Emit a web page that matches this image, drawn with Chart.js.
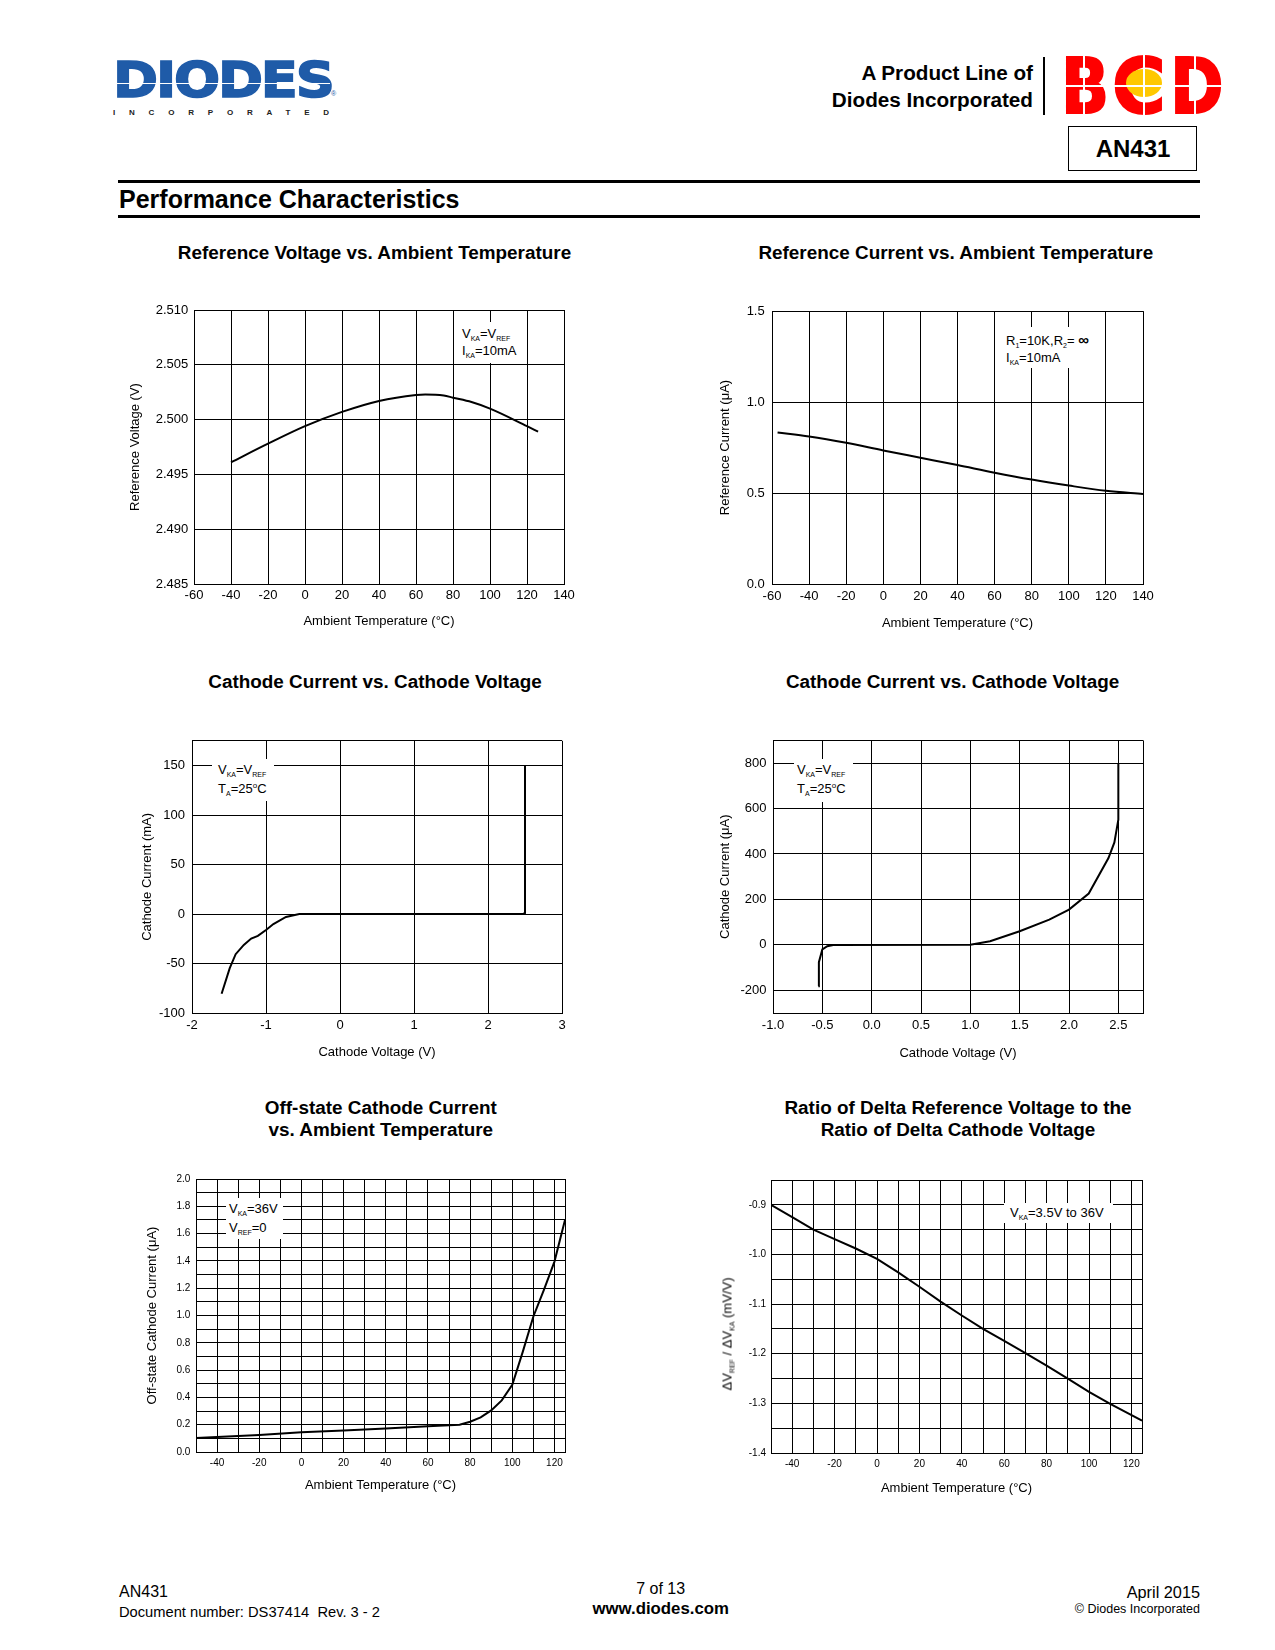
<!DOCTYPE html>
<html>
<head>
<meta charset="utf-8">
<script src="https://cdn.jsdelivr.net/npm/chart.js@4.4.1/dist/chart.umd.min.js"></script>
<style>
  html, body { margin: 0; padding: 0; background: #fff; }
  #page { position: relative; width: 1275px; height: 1650px; overflow: hidden;
          font-family: "Liberation Sans", Arial, Helvetica, sans-serif; color: #000; }
  .abs { position: absolute; white-space: nowrap; }
  .c { position: absolute; white-space: nowrap; transform: translate(-50%, -50%); }
  .l { position: absolute; white-space: nowrap; transform: translateY(-50%); }
  .r { position: absolute; white-space: nowrap; transform: translate(-100%, -50%); }
  .ctitle { font-weight: bold; font-size: 18.9px; text-align: center; line-height: 22px; }
  .note { position: absolute; background: #fff; font-size: 13px; white-space: nowrap; z-index: 5; }
  .note sub, .ytl sub { font-size: 7px; vertical-align: -3px; line-height: 0; }
  .sup { font-size: 8px; vertical-align: 5px; line-height: 0; }
  .rule { position: absolute; left: 118px; width: 1082px; height: 3px; background: #000; }
  .bcd { position: absolute; top: 48px; font-family: "DejaVu Sans", sans-serif; font-weight: bold;
         font-size: 77px; line-height: 77px; color: #f00; transform-origin: 0 0;
         -webkit-text-stroke: 2px #f00; }
</style>
</head>
<body>
<div id="page">
  <!-- header -->
  <div class="abs" style="left:113px;top:56px;font-family:'DejaVu Sans',sans-serif;font-weight:bold;font-size:49.4px;line-height:49.4px;color:#1f5ba8;letter-spacing:-2px;-webkit-text-stroke:1.6px #1f5ba8;transform:scaleX(1.1);transform-origin:0 0;">DIODES</div>
  <div class="abs" style="left:112px;top:83px;width:218px;height:1px;background:#fff;"></div>
  <div class="abs" style="left:331px;top:90px;font-size:7px;color:#1f5ba8;">®</div>
  <div class="l" style="left:113px;top:112px;font-size:8px;font-weight:bold;letter-spacing:13.8px;color:#222;">INCORPORATED</div>

  <div class="r" style="left:1033px;top:73px;font-size:20.7px;font-weight:bold;">A Product Line of</div>
  <div class="r" style="left:1033px;top:100px;font-size:20.7px;font-weight:bold;">Diodes Incorporated</div>
  <div class="abs" style="left:1043px;top:57px;width:1.5px;height:58px;background:#000;"></div>

  <div class="bcd" style="left:1061px;transform:scaleX(0.82);">B</div>
  <div class="bcd" style="left:1112px;transform:scaleX(0.95);">C</div>
  <div class="abs" style="left:1126px;top:69px;width:36px;height:28px;border-radius:50%;background:#ffc800;"></div>
  <div class="bcd" style="left:1170px;transform:scaleX(0.84);">D</div>
  <div class="abs" style="left:1059px;top:85px;width:168px;height:1.5px;background:#fff;"></div>
  <div class="abs" style="left:1083px;top:55px;width:1.5px;height:60px;background:#fff;"></div>
  <div class="abs" style="left:1143px;top:55px;width:1.5px;height:60px;background:#fff;"></div>
  <div class="abs" style="left:1194px;top:55px;width:1.5px;height:60px;background:#fff;"></div>

  <div class="abs" style="left:1068px;top:126px;width:127px;height:43px;border:1.5px solid #000;"></div>
  <div class="c" style="left:1133px;top:149px;font-size:24px;font-weight:bold;">AN431</div>

  <div class="rule" style="top:180px;"></div>
  <div class="l" style="left:119px;top:199px;font-size:25px;font-weight:bold;">Performance Characteristics</div>
  <div class="rule" style="top:215px;"></div>

  <!-- chart titles -->
  <div class="c ctitle" style="left:374.5px;top:252.5px;">Reference Voltage vs. Ambient Temperature</div>
  <div class="c ctitle" style="left:955.8px;top:252.5px;">Reference Current vs. Ambient Temperature</div>
  <div class="c ctitle" style="left:375px;top:682px;">Cathode Current vs. Cathode Voltage</div>
  <div class="c ctitle" style="left:952.6px;top:682px;">Cathode Current vs. Cathode Voltage</div>
  <div class="c ctitle" style="left:380.8px;top:1119px;">Off-state Cathode Current<br>vs. Ambient Temperature</div>
  <div class="c ctitle" style="left:958px;top:1119px;">Ratio of Delta Reference Voltage to the<br>Ratio of Delta Cathode Voltage</div>

  <!-- notes inside plots -->
  <div class="note" style="left:455px;top:322px;width:66px;height:41px;padding:2.5px 0 0 7px;box-sizing:border-box;line-height:17px;">
    <div>V<sub>KA</sub>=V<sub>REF</sub></div><div>I<sub>KA</sub>=10mA</div></div>
  <div class="note" style="left:1001px;top:327px;width:93px;height:41px;padding:3.5px 0 0 5px;box-sizing:border-box;line-height:17.5px;">
    <div>R<sub>1</sub>=10K,R<sub>2</sub>= <b style="font-size:15px;">∞</b></div><div>I<sub>KA</sub>=10mA</div></div>
  <div class="note" style="left:212px;top:759px;width:62px;height:42px;padding:0.5px 0 0 6px;box-sizing:border-box;line-height:19px;">
    <div>V<sub>KA</sub>=V<sub>REF</sub></div><div>T<sub>A</sub>=25<span class="sup">o</span>C</div></div>
  <div class="note" style="left:794px;top:759px;width:59px;height:43px;padding:0.5px 0 0 3px;box-sizing:border-box;line-height:19px;">
    <div>V<sub>KA</sub>=V<sub>REF</sub></div><div>T<sub>A</sub>=25<span class="sup">o</span>C</div></div>
  <div class="note" style="left:226px;top:1198px;width:57px;height:41px;padding:0.5px 0 0 3px;box-sizing:border-box;line-height:19px;">
    <div>V<sub>KA</sub>=36V</div><div>V<sub>REF</sub>=0</div></div>
  <div class="note" style="left:1004px;top:1203px;width:109px;height:20px;padding:0 0 0 6px;box-sizing:border-box;line-height:20px;">
    <div>V<sub>KA</sub>=3.5V to 36V</div></div>

  <div class="c ytl" style="left:727px;top:1334px;font-size:13px;transform:translate(-50%,-50%) rotate(-90deg);z-index:5;">ΔV<sub>REF</sub> / ΔV<sub>KA</sub> (mV/V)</div>

  <!-- footer -->
  <div class="l" style="left:119px;top:1592px;font-size:16px;">AN431</div>
  <div class="l" style="left:119px;top:1612px;font-size:14.7px;">Document number: DS37414&nbsp; Rev. 3 - 2</div>
  <div class="c" style="left:660.7px;top:1588.5px;font-size:16px;">7 of 13</div>
  <div class="c" style="left:660.7px;top:1608.5px;font-size:16.8px;font-weight:bold;">www.diodes.com</div>
  <div class="r" style="left:1200px;top:1592px;font-size:16.3px;">April 2015</div>
  <div class="r" style="left:1200px;top:1608.5px;font-size:12.5px;">© Diodes Incorporated</div>
</div>

<script>
// ---- data ----

// Reference Voltage vs. Ambient Temperature
const vrefTemp = [-40, -20, 0, 20, 40, 60, 65, 75, 80, 90, 100, 120, 126];
const vrefVolt = [2.4961, 2.4978, 2.4994, 2.5007, 2.5017, 2.50225, 2.5023, 2.5022, 2.5020, 2.5016, 2.5010, 2.4994, 2.4989];
const vrefXTicks = [-60, -40, -20, 0, 20, 40, 60, 80, 100, 120, 140];
const vrefYTicks = [2.485, 2.490, 2.495, 2.500, 2.505, 2.510];

// Reference Current vs. Ambient Temperature
const irefTemp = [-57, -40, -20, 0, 20, 40, 60, 80, 100, 120, 140];
const irefCurr = [0.833, 0.811, 0.776, 0.734, 0.694, 0.654, 0.612, 0.574, 0.541, 0.512, 0.494];
const irefXTicks = [-60, -40, -20, 0, 20, 40, 60, 80, 100, 120, 140];
const irefYTicks = [0.0, 0.5, 1.0, 1.5];

// Cathode Current (mA) vs. Cathode Voltage
const ikaVoltA = [-1.60, -1.49, -1.41, -1.30, -1.20, -1.11, -1.00, -0.90, -0.73, -0.55, 2.48, 2.50, 2.50];
const ikaCurrA = [-80.5, -54.7, -40.6, -31.2, -24.8, -22.1, -16.1, -10.1, -3.0, 0, 0.3, 1, 150];
const ikaAXTicks = [-2, -1, 0, 1, 2, 3];
const ikaAYGrid = [-100, -50, 0, 50, 100, 150, 175];
const ikaAYLabels = [-100, -50, 0, 50, 100, 150];

// Cathode Current (uA) vs. Cathode Voltage
const ikaVoltB = [-0.54, -0.535, -0.50, -0.45, -0.39, 1.0, 1.2, 1.5, 1.8, 2.0, 2.2, 2.4, 2.46, 2.5, 2.5];
const ikaCurrB = [-182, -76, -20, -6, -1, 0, 16, 60, 111, 155, 226, 382, 451, 551, 800];
const ikaBXGrid = [-1.0, -0.5, 0.0, 0.5, 1.0, 1.5, 2.0, 2.5, 2.75];
const ikaBXLabels = [-1.0, -0.5, 0.0, 0.5, 1.0, 1.5, 2.0, 2.5];
const ikaBYGrid = [-300, -200, 0, 200, 400, 600, 800, 900];
const ikaBYLabels = [-200, 0, 200, 400, 600, 800];

// Off-state Cathode Current vs. Ambient Temperature
const ioffTemp = [-50, -40, -20, 0, 20, 40, 60, 75, 80, 85, 90, 95, 100, 105, 110, 115, 120, 125];
const ioffCurr = [0.102, 0.11, 0.125, 0.144, 0.158, 0.173, 0.188, 0.20, 0.222, 0.254, 0.305, 0.378, 0.493, 0.735, 0.993, 1.188, 1.395, 1.70];
const tempGridFine = [-50, -40, -30, -20, -10, 0, 10, 20, 30, 40, 50, 60, 70, 80, 90, 100, 110, 120, 125];
const tempLabelsFine = [-40, -20, 0, 20, 40, 60, 80, 100, 120];
const ioffYGrid = [0, 0.1, 0.2, 0.3, 0.4, 0.5, 0.6, 0.7, 0.8, 0.9, 1.0, 1.1, 1.2, 1.3, 1.4, 1.5, 1.6, 1.7, 1.8, 1.9, 2.0];
const ioffYLabels = [0, 0.2, 0.4, 0.6, 0.8, 1.0, 1.2, 1.4, 1.6, 1.8, 2.0];

// Ratio of delta reference voltage to delta cathode voltage
const ratioTemp = [-50, -40, -30, -20, -10, 0, 10, 20, 30, 40, 50, 60, 70, 80, 90, 100, 110, 125];
const ratioVal = [-0.900, -0.925, -0.950, -0.969, -0.988, -1.009, -1.036, -1.065, -1.095, -1.123, -1.150, -1.174, -1.199, -1.224, -1.250, -1.277, -1.301, -1.335];
const ratioYGrid = [-1.4, -1.35, -1.3, -1.25, -1.2, -1.15, -1.1, -1.05, -1.0, -0.95, -0.9, -0.85];
const ratioYLabels = [-1.4, -1.3, -1.2, -1.1, -1.0, -0.9];

// ---- chart setup ----
const FONT = '"Liberation Sans", Arial, Helvetica, sans-serif';

function near(list, v) {
    return list.some(t => Math.abs(t - v) < 1e-6);
}

function buildChart(s) {
    const canvasLeft = Math.round(s.yTitleX - 14);
    const canvasTop = s.plot.t - 14;
    const canvasRight = s.plot.r + 22;
    const canvasBottom = Math.round(s.xTitleY + 14);
    const w = canvasRight - canvasLeft;
    const h = canvasBottom - canvasTop;

    const box = document.createElement('div');
    box.style.cssText = `position:absolute;left:${canvasLeft}px;top:${canvasTop}px;width:${w}px;height:${h}px;`;
    const cv = document.createElement('canvas');
    cv.width = w;
    cv.height = h;
    cv.style.width = w + 'px';
    cv.style.height = h + 'px';
    box.appendChild(cv);
    document.getElementById('page').appendChild(box);

    const titleFont = { family: FONT, size: 13, lineHeight: 1.2 };
    const tickFont = { family: FONT, size: s.tickSize, lineHeight: 1.2 };
    const half = 13 * 1.2 / 2;

    new Chart(cv, {
        type: 'line',
        data: {
            datasets: [{
                data: s.xs.map((x, i) => ({ x: x, y: s.ys[i] })),
                borderColor: '#000',
                borderWidth: 2,
                pointRadius: 0,
                fill: false,
                tension: s.smooth ? 0.4 : 0,
                cubicInterpolationMode: s.smooth ? 'monotone' : 'default'
            }]
        },
        options: {
            responsive: false,
            animation: false,
            events: [],
            devicePixelRatio: 1,
            layout: { padding: { left: 0, top: s.plot.t - canvasTop, right: canvasRight - s.plot.r, bottom: 0 } },
            plugins: { legend: { display: false }, tooltip: { enabled: false } },
            scales: {
                x: {
                    type: 'linear',
                    min: s.x.min,
                    max: s.x.max,
                    afterBuildTicks: a => { a.ticks = s.x.grid.map(v => ({ value: v })); },
                    afterFit: a => { a.height = canvasBottom - s.plot.b; },
                    grid: { color: '#000', lineWidth: 1, drawTicks: false },
                    border: { color: '#000', width: 1 },
                    ticks: {
                        autoSkip: false, maxRotation: 0, minRotation: 0, padding: s.xPad, color: '#000', font: tickFont,
                        callback: v => near(s.x.labels, v) ? v.toFixed(s.x.dec) : ''
                    },
                    title: {
                        display: true, text: s.xTitle, color: '#000', font: titleFont,
                        padding: { top: 0, bottom: canvasBottom - s.xTitleY - half }
                    }
                },
                y: {
                    type: 'linear',
                    min: s.y.min,
                    max: s.y.max,
                    afterBuildTicks: a => { a.ticks = s.y.grid.map(v => ({ value: v })); },
                    afterFit: a => { a.width = s.plot.l - canvasLeft; },
                    grid: { color: '#000', lineWidth: 1, drawTicks: false },
                    border: { color: '#000', width: 1 },
                    ticks: {
                        autoSkip: false, padding: s.yPad, color: '#000', font: tickFont,
                        callback: v => near(s.y.labels, v) ? v.toFixed(s.y.dec) : ''
                    },
                    title: {
                        display: s.yTitle !== null, text: s.yTitle || '', color: '#000', font: titleFont,
                        padding: { top: s.yTitleX - canvasLeft - half, bottom: 0 }
                    }
                }
            }
        }
    });
}

const tempTitle = 'Ambient Temperature (°C)';

buildChart({
    plot: { l: 194, t: 310, r: 564, b: 584 }, yTitleX: 135, xTitleY: 621, tickSize: 13, xPad: 3.9, yPad: 5.7,
    xs: vrefTemp, ys: vrefVolt, smooth: true,
    x: { min: -60, max: 140, grid: vrefXTicks, labels: vrefXTicks, dec: 0 },
    y: { min: 2.485, max: 2.510, grid: vrefYTicks, labels: vrefYTicks, dec: 3 },
    xTitle: tempTitle, yTitle: 'Reference Voltage (V)'
});

buildChart({
    plot: { l: 772, t: 310, r: 1143, b: 584 }, yTitleX: 725, xTitleY: 623, tickSize: 13, xPad: 4.2, yPad: 7.3,
    xs: irefTemp, ys: irefCurr, smooth: true,
    x: { min: -60, max: 140, grid: irefXTicks, labels: irefXTicks, dec: 0 },
    y: { min: 0, max: 1.5, grid: irefYTicks, labels: irefYTicks, dec: 1 },
    xTitle: tempTitle, yTitle: 'Reference Current (μA)'
});

buildChart({
    plot: { l: 192, t: 740, r: 562, b: 1013 }, yTitleX: 147, xTitleY: 1052, tickSize: 13, xPad: 4.2, yPad: 7,
    xs: ikaVoltA, ys: ikaCurrA, smooth: false,
    x: { min: -2, max: 3, grid: ikaAXTicks, labels: ikaAXTicks, dec: 0 },
    y: { min: -100, max: 175, grid: ikaAYGrid, labels: ikaAYLabels, dec: 0 },
    xTitle: 'Cathode Voltage (V)', yTitle: 'Cathode Current (mA)'
});

buildChart({
    plot: { l: 773, t: 740, r: 1143, b: 1013 }, yTitleX: 725, xTitleY: 1053, tickSize: 13, xPad: 4.2, yPad: 6.6,
    xs: ikaVoltB, ys: ikaCurrB, smooth: false,
    x: { min: -1, max: 2.75, grid: ikaBXGrid, labels: ikaBXLabels, dec: 1 },
    y: { min: -300, max: 900, grid: ikaBYGrid, labels: ikaBYLabels, dec: 0 },
    xTitle: 'Cathode Voltage (V)', yTitle: 'Cathode Current (μA)'
});

buildChart({
    plot: { l: 196, t: 1179, r: 565, b: 1452 }, yTitleX: 152, xTitleY: 1485, tickSize: 10, xPad: 5.3, yPad: 5.7,
    xs: ioffTemp, ys: ioffCurr, smooth: false,
    x: { min: -50, max: 125, grid: tempGridFine, labels: tempLabelsFine, dec: 0 },
    y: { min: 0, max: 2.0, grid: ioffYGrid, labels: ioffYLabels, dec: 1 },
    xTitle: tempTitle, yTitle: 'Off-state Cathode Current (μA)'
});

buildChart({
    plot: { l: 771, t: 1180, r: 1142, b: 1453 }, yTitleX: 727, xTitleY: 1488, tickSize: 10, xPad: 5, yPad: 5,
    xs: ratioTemp, ys: ratioVal, smooth: false,
    x: { min: -50, max: 125, grid: tempGridFine, labels: tempLabelsFine, dec: 0 },
    y: { min: -1.4, max: -0.85, grid: ratioYGrid, labels: ratioYLabels, dec: 1 },
    xTitle: tempTitle, yTitle: null
});
</script>
</body>
</html>
